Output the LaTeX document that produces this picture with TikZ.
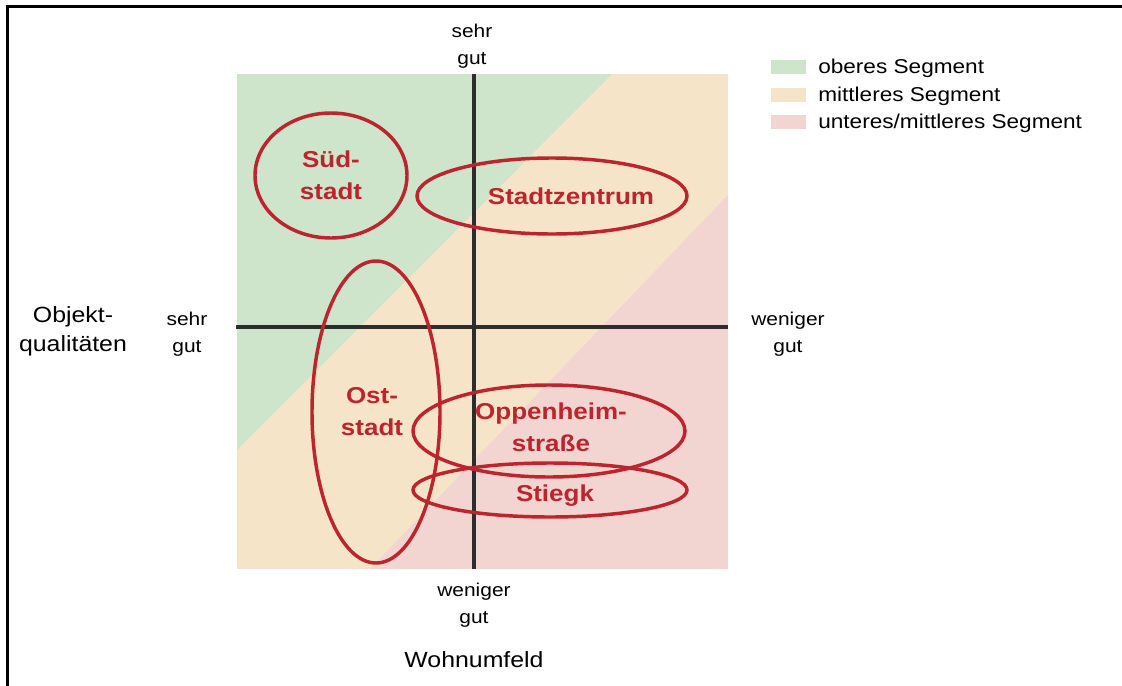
\documentclass[tikz,border=0pt]{standalone}
\usepackage{fontspec}
\setmainfont{Liberation Sans}[FakeStretch=1.13]
\definecolor{segGreen}{RGB}{206,228,203}
\definecolor{segBeige}{RGB}{245,228,200}
\definecolor{segPink}{RGB}{242,213,209}
\definecolor{regRed}{RGB}{188,36,46}
\definecolor{axisGray}{RGB}{45,45,45}
\tikzset{
  region/.style={draw=regRed, line width=2.6pt},
  regionlabel/.style={text=regRed, font=\bfseries\fontsize{17.25}{24}\selectfont, align=center, inner sep=0pt},
  axislabel/.style={font=\fontsize{13.9}{20.25}\selectfont, align=center, inner sep=0pt},
  biglabel/.style={font=\fontsize{16.5}{21.75}\selectfont, align=center, inner sep=0pt},
  legendtext/.style={font=\fontsize{15}{18}\selectfont, anchor=base west, inner sep=0pt},
  axisline/.style={draw=axisGray, line width=2.6pt},
}
\begin{document}
\begin{tikzpicture}[x=0.75pt, y=-0.75pt]
\useasboundingbox (0,0) rectangle (1122,686);
% frame (top and left edges visible)
\draw[line width=2.25pt] (7,686) -- (7,6) -- (1122,6);
% segments
\fill[segBeige] (237,74) rectangle (728,569);
\fill[segGreen] (237,74) -- (612,74) -- (237,450) -- cycle;
\fill[segPink] (370,569) -- (728,569) -- (728,195) -- cycle;
% axes
\coordinate (vtop) at (474,74);
\coordinate (vbot) at (474,569);
\coordinate (hl) at (236,327);
\coordinate (hr) at (728,327);
\draw[axisline] (vtop) -- (vbot);
\draw[axisline] (hl) -- (hr);
% regions
\draw[region] (331,175.5) ellipse [x radius=76, y radius=62.5];
\draw[region] (552,196) ellipse [x radius=135, y radius=38];
\draw[region] (376,412) ellipse [x radius=64, y radius=151];
\draw[region] (549,431) ellipse [x radius=136, y radius=46];
\draw[region] (550,490) ellipse [x radius=137, y radius=27];
% region labels
\node[regionlabel] (sued) at (331,175) {Süd-\\stadt};
\node[regionlabel] (zentrum) at (571,196) {Stadtzentrum};
\node[regionlabel] (ost) at (372,412) {Ost-\\stadt};
\node[regionlabel] (oppen) at (551,427.5) {Oppenheim-\\straße};
\node[regionlabel] (stiegk) at (555,496) {Stiegk};
% axis labels
\node[axislabel] (top) at (472,46.5) {sehr\\gut};
\node[axislabel] (left) at (187,334) {sehr\\gut};
\node[axislabel] (right) at (788,334) {weniger\\gut};
\node[axislabel] (bottom) at (474,605) {weniger\\gut};
\node[biglabel] (objekt) at (73,331) {Objekt-\\qualitäten};
\node[biglabel] (wohn) at (474,660) {Wohnumfeld};
% legend
\fill[segGreen] (771,60) rectangle (806,74);
\fill[segBeige] (771,88) rectangle (806,102);
\fill[segPink] (771,115) rectangle (806,129);
\node[legendtext] (lg1) at (818,73) {oberes Segment};
\node[legendtext] (lg2) at (818,101) {mittleres Segment};
\node[legendtext] (lg3) at (818,128) {unteres/mittleres Segment};
\end{tikzpicture}
\end{document}
